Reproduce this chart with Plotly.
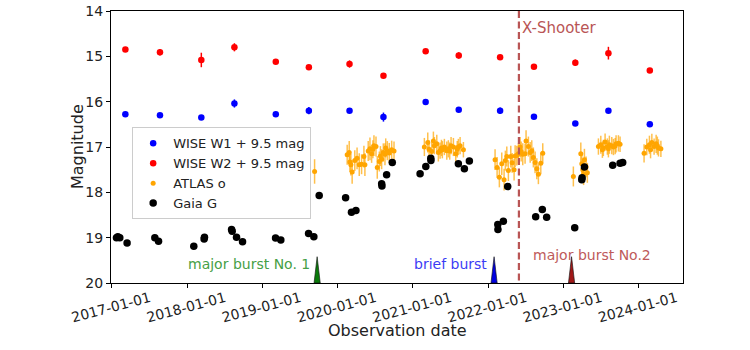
import datetime as dt
import plotly.graph_objects as go

def to_date(y):
    year = int(y)
    start = dt.datetime(year, 1, 1)
    end = dt.datetime(year + 1, 1, 1)
    return start + (end - start) * (y - year)

# WISE epochs (decimal year)
wise_t = [2017.18, 2017.64, 2018.19, 2018.63, 2019.18, 2019.62, 2020.16, 2020.61,
          2021.17, 2021.61, 2022.16, 2022.61, 2023.16, 2023.60, 2024.15]
w1_mag = [16.28, 16.30, 16.35, 16.04, 16.28, 16.20, 16.20, 16.34,
          16.01, 16.18, 16.20, 16.33, 16.48, 16.20, 16.50]
w1_err = [0.04, 0.04, 0.04, 0.09, 0.04, 0.08, 0.05, 0.10,
          0.04, 0.05, 0.07, 0.04, 0.04, 0.05, 0.04]
w2_mag = [14.85, 14.91, 15.08, 14.80, 15.12, 15.24, 15.17, 15.43,
          14.89, 14.98, 15.02, 15.23, 15.14, 14.93, 15.31]
w2_err = [0.04, 0.07, 0.16, 0.09, 0.04, 0.05, 0.08, 0.04,
          0.04, 0.07, 0.04, 0.04, 0.07, 0.14, 0.04]

# ATLAS o
atlas_t = [2019.696,
           2020.129, 2020.156, 2020.165, 2020.178, 2020.195, 2020.289, 2020.320, 2020.351,
           2020.364, 2020.408, 2020.431, 2020.453, 2020.484, 2020.511, 2020.528, 2020.555,
           2020.586, 2020.608, 2020.630, 2020.661, 2020.687, 2020.719, 2020.750,
           2020.230, 2020.260, 2020.470, 2020.570, 2020.640,
           2021.153, 2021.198, 2021.215, 2021.273, 2021.286, 2021.318, 2021.339, 2021.362,
           2021.392, 2021.419, 2021.451, 2021.472, 2021.508, 2021.539, 2021.570, 2021.605,
           2021.628, 2021.672, 2021.250, 2021.380, 2021.490, 2021.590,
           2022.093, 2022.150, 2022.182, 2022.213, 2022.249, 2022.270, 2022.302, 2022.320,
           2022.346, 2022.382, 2022.403, 2022.426, 2022.461, 2022.492, 2022.505, 2022.536,
           2022.581, 2022.602, 2022.625, 2022.648, 2022.669, 2022.701, 2022.727,
           2022.120, 2022.230, 2022.360, 2022.440, 2022.560,
           2023.134, 2023.233, 2023.246, 2023.259, 2023.281, 2023.303, 2023.320, 2023.270,
           2023.467, 2023.499, 2023.533, 2023.556, 2023.586, 2023.613, 2023.645, 2023.667,
           2023.702, 2023.733, 2023.755, 2023.520, 2023.600, 2023.690,
           2024.074, 2024.110, 2024.145, 2024.177, 2024.207, 2024.234, 2024.265, 2024.297,
           2024.160, 2024.250]
atlas_mag = [17.54,
             17.17, 17.12, 17.33, 17.39, 17.55, 17.39, 17.38, 17.21,
             17.39, 17.09, 17.04, 17.15, 16.97, 16.99, 17.45, 17.32,
             17.27, 17.12, 17.16, 17.08, 17.13, 17.06, 17.09,
             17.30, 17.25, 17.05, 17.20, 17.02,
             17.00, 16.90, 17.05, 16.87, 16.97, 16.93, 17.12, 17.08,
             17.06, 17.00, 17.08, 17.04, 16.97, 17.00, 17.15, 17.00,
             16.97, 17.06, 17.10, 17.02, 17.09, 17.05,
             17.28, 17.67, 17.37, 17.72, 17.21, 17.52, 17.21, 17.35,
             17.50, 17.19, 17.15, 17.00, 17.16, 17.15, 16.87, 16.99,
             17.08, 17.23, 17.34, 17.48, 17.60, 17.36, 17.14,
             17.45, 17.30, 17.20, 17.10, 17.12,
             17.65, 17.15, 17.37, 17.50, 17.28, 17.44, 17.57, 17.60,
             16.99, 16.95, 17.02, 16.89, 16.99, 16.95, 16.97, 17.00,
             16.93, 16.92, 16.94, 17.06, 17.04, 16.98,
             17.14, 17.00, 16.95, 16.90, 16.99, 16.93, 17.02, 17.04,
             17.06, 16.97]
atlas_err = [0.27,
             0.22, 0.25, 0.22, 0.24, 0.26, 0.25, 0.22, 0.24,
             0.25, 0.22, 0.25, 0.20, 0.23, 0.22, 0.25, 0.22,
             0.22, 0.20, 0.24, 0.21, 0.22, 0.20, 0.21,
             0.23, 0.24, 0.20, 0.22, 0.21,
             0.20, 0.22, 0.20, 0.21, 0.19, 0.20, 0.20, 0.18,
             0.19, 0.18, 0.20, 0.19, 0.19, 0.20, 0.18, 0.18,
             0.19, 0.17, 0.20, 0.18, 0.19, 0.18,
             0.23, 0.22, 0.25, 0.24, 0.22, 0.23, 0.24, 0.22,
             0.24, 0.22, 0.23, 0.22, 0.24, 0.22, 0.24, 0.22,
             0.23, 0.22, 0.24, 0.23, 0.22, 0.24, 0.22,
             0.23, 0.22, 0.24, 0.22, 0.23,
             0.22, 0.25, 0.24, 0.22, 0.24, 0.23, 0.22, 0.24,
             0.18, 0.20, 0.18, 0.19, 0.18, 0.20, 0.19, 0.18,
             0.19, 0.18, 0.17, 0.18, 0.19, 0.18,
             0.20, 0.18, 0.20, 0.19, 0.18, 0.20, 0.19, 0.18,
             0.19, 0.20]

# Gaia G
gaia_t = [2017.062, 2017.080, 2017.106, 2017.203, 2017.572, 2017.621, 2018.090, 2018.227,
          2018.232, 2018.592, 2018.600, 2018.658, 2018.738, 2019.177, 2019.247, 2019.616,
          2019.686, 2019.757, 2020.108, 2020.186, 2020.245, 2020.586, 2020.590, 2020.652,
          2020.727, 2021.096, 2021.172, 2021.238, 2021.240, 2021.605, 2021.685, 2021.751,
          2022.129, 2022.131, 2022.203, 2022.261, 2022.633, 2022.721, 2022.779, 2023.152,
          2023.246, 2023.250, 2023.281, 2023.657, 2023.755, 2023.790]
gaia_mag = [19.00, 18.98, 19.00, 19.12, 19.00, 19.08, 19.19, 19.03,
            18.99, 18.82, 18.86, 18.99, 19.09, 19.01, 19.05, 18.91,
            18.98, 18.07, 18.12, 18.44, 18.40, 17.81, 17.86, 17.61,
            17.34, 17.59, 17.43, 17.25, 17.30, 17.37, 17.48, 17.31,
            18.71, 18.82, 18.64, 17.87, 18.54, 18.38, 18.55, 18.78,
            17.72, 17.68, 17.44, 17.40, 17.36, 17.34]
gaia_err = [0.02] * len(gaia_t)

# events
burst_t = [2019.73, 2022.08, 2023.11]
burst_label = ["major burst No. 1", "brief burst", "major burst No.2"]
burst_fill = ["#0a7a0a", "#0000e0", "#a01818"]
burst_text_color = ["rgb(70,160,70)", "rgb(60,60,245)", "rgb(190,90,90)"]
xshooter_t = 2022.41
xshooter_label = "X-Shooter"
x_title = "Observation date"
y_title = "Magnitude"

FONT = "DejaVu Sans"
fig = go.Figure()

def d(lst):
    return [to_date(v) for v in lst]

fig.add_trace(go.Scatter(
    x=d(wise_t), y=w1_mag, mode="markers", name="WISE W1 + 9.5 mag",
    marker=dict(color="blue", size=6.5),
    error_y=dict(type="data", array=w1_err, color="blue", thickness=1.5, width=0)))
fig.add_trace(go.Scatter(
    x=d(wise_t), y=w2_mag, mode="markers", name="WISE W2 + 9.5 mag",
    marker=dict(color="red", size=6.5),
    error_y=dict(type="data", array=w2_err, color="red", thickness=1.5, width=0)))
fig.add_trace(go.Scatter(
    x=d(atlas_t), y=atlas_mag, mode="markers", name="ATLAS o",
    marker=dict(color="orange", size=5),
    error_y=dict(type="data", array=atlas_err, color="rgba(255,165,0,0.7)", thickness=1.5, width=0)))
fig.add_trace(go.Scatter(
    x=d(gaia_t), y=gaia_mag, mode="markers", name="Gaia G",
    marker=dict(color="black", size=7.5),
    error_y=dict(type="data", array=gaia_err, color="black", thickness=1.5, width=0)))

# X-Shooter vertical dashed line
fig.add_trace(go.Scatter(
    x=[to_date(xshooter_t)] * 2, y=[14, 20], mode="lines", showlegend=False,
    line=dict(color="rgb(185,85,85)", width=2.2, dash="7px,3.5px"), hoverinfo="skip"))
fig.add_annotation(x=to_date(xshooter_t), y=14, xref="x", yref="y", text=xshooter_label,
                   showarrow=False, xanchor="left", yanchor="top", xshift=1, yshift=-6,
                   font=dict(family=FONT, size=15, color="rgb(185,85,85)"))

# burst triangles
half_w = dt.timedelta(days=15)
tri_top = 19.42
for t, fc in zip(burst_t, burst_fill):
    c = to_date(t)
    fig.add_trace(go.Scatter(
        x=[c - half_w, c, c + half_w, c - half_w], y=[20, tri_top, 20, 20],
        mode="lines", fill="toself", fillcolor=fc, showlegend=False,
        line=dict(color="rgba(20,20,20,0.8)", width=0.8), hoverinfo="skip"))

text_pos = [(19.57, "right", -5), (19.57, "right", -5), (19.39, "left", -41)]
for t, lab, col, (yy, anch, xs) in zip(burst_t, burst_label, burst_text_color, text_pos):
    fig.add_annotation(x=to_date(t), y=yy, xref="x", yref="y", text=lab, showarrow=False,
                       xanchor=anch, yanchor="middle", xshift=xs,
                       font=dict(family=FONT, size=14, color=col))

# axis titles
fig.add_annotation(x=0.5, y=0, xref="paper", yref="paper", text=x_title, showarrow=False,
                   xanchor="center", yanchor="middle", yshift=-47,
                   font=dict(family=FONT, size=16, color="#222"))
fig.add_annotation(x=0, y=0.5, xref="paper", yref="paper", text=y_title, showarrow=False,
                   xanchor="center", yanchor="middle", xshift=-34, textangle=-90,
                   font=dict(family=FONT, size=16, color="#222"))

fig.update_layout(
    width=750, height=350,
    margin=dict(l=111, r=67, t=11, b=67),
    paper_bgcolor="white", plot_bgcolor="white",
    font=dict(family=FONT, size=13, color="black"),
    legend=dict(x=0.037, y=0.572, xanchor="left", yanchor="top",
                bgcolor="rgba(255,255,255,0.8)", bordercolor="#cccccc", borderwidth=1,
                font=dict(family=FONT, size=13, color="#222"), tracegroupgap=0,
                itemsizing="trace", itemwidth=30),
)
fig.update_xaxes(
    range=[dt.datetime(2016, 12, 28), dt.datetime(2024, 8, 4)],
    tick0="2017-01-01", dtick="M12", tickformat="%Y-%m-%d", tickangle=-15,
    ticklabelshift=38, ticklabelstandoff=-3, automargin=False,
    ticks="outside", ticklen=4, tickcolor="black", showgrid=False, zeroline=False,
    showline=True, linecolor="black", linewidth=1, mirror=True,
    tickfont=dict(family=FONT, size=14, color="#222"),
)
fig.update_yaxes(
    range=[20, 14], tickvals=[14, 15, 16, 17, 18, 19, 20], automargin=False,
    ticks="outside", ticklen=4, tickcolor="black", showgrid=False, zeroline=False,
    showline=True, linecolor="black", linewidth=1, mirror=True,
    tickfont=dict(family=FONT, size=14, color="#222"),
)

fig.write_html("out.html")
